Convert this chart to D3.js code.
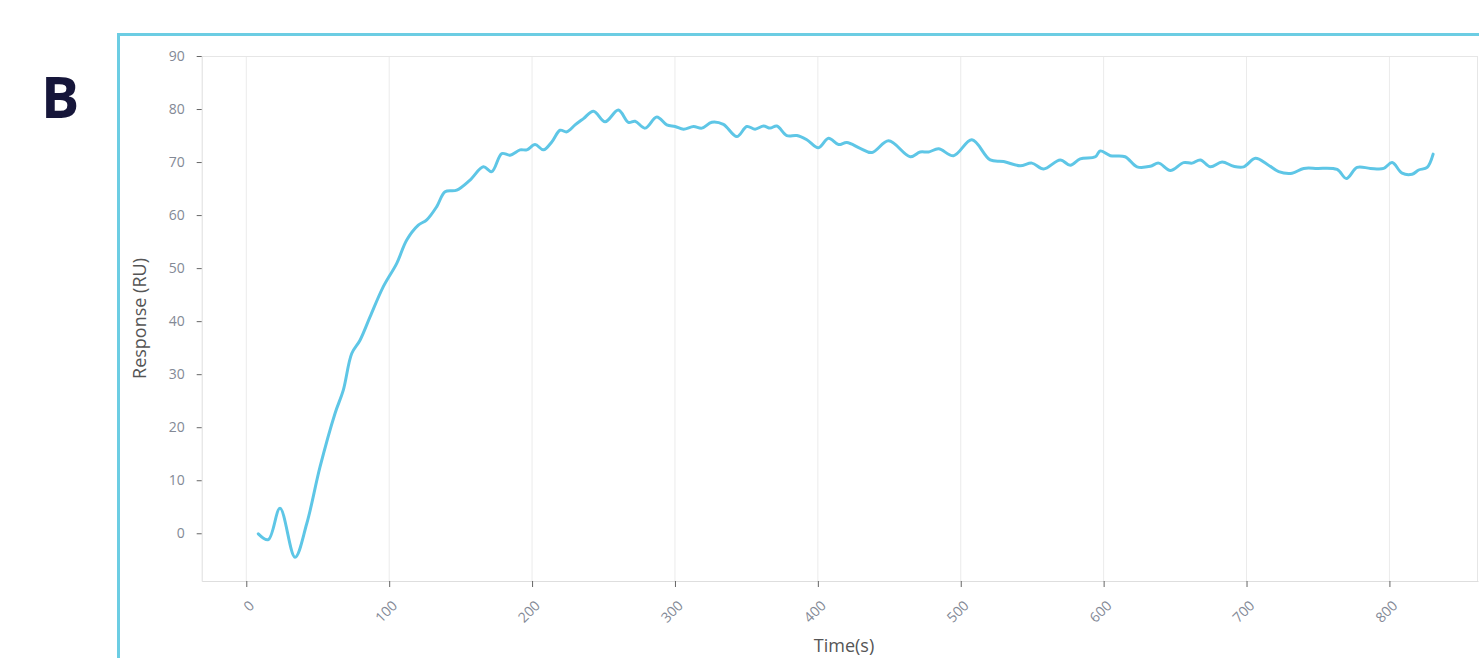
<!DOCTYPE html>
<html>
<head>
<meta charset="utf-8">
<script src="https://cdn.jsdelivr.net/npm/d3@7"></script>
<style>
  html, body { margin: 0; padding: 0; background: #fff; }
  svg { display: block; }
</style>
</head>
<body>
<svg id="chart" width="1479" height="658"></svg>
<script>
// ---- data ----
const timeS = [8.4, 15.4, 23.6, 34.1, 42.3, 51.6, 62.1, 67.9, 73.8, 79.6, 86.6, 95.9, 105.3, 112.3, 120.4, 126.3,
  133.3, 139.1, 147.3, 156.6, 165.9, 171.8, 178.8, 184.6, 191.6, 196.3, 202.1, 208, 213.8, 219.6, 224.3, 230.1,
  236, 243, 251.1, 260.4, 267.4, 272.1, 279.1, 287.3, 294.3, 300.1, 306, 313, 318.8, 325.8, 333.9, 343.3, 350.3,
  356.1, 362, 366.6, 371.3, 378.3, 385.3, 392.3, 400.4, 407.5, 414.5, 420.3, 429.6, 437.8, 449.5, 464.7, 471.6,
  477.5, 484.5, 495, 507.8, 520.6, 530, 541.6, 549.8, 558, 569.6, 576.7, 583.6, 594.2, 597.6, 604.7, 615, 623.4,
  632.7, 638.5, 646.7, 656, 661.9, 667.7, 674.7, 682.9, 691, 698, 706.2, 714.4, 722.5, 731.9, 740, 749.4, 763.4,
  769.9, 777.4, 786.7, 796, 801.9, 808.9, 815.9, 820.5, 826.4, 830.6];
const responseRU = [-0.1, -1.2, 4.7, -4.5, 1.8, 12.5, 22.6, 27, 33.9, 36.4, 40.8, 46.5, 50.9, 55.3, 58.1, 59.1,
  61.6, 64.4, 64.7, 66.6, 69.1, 68.2, 71.6, 71.3, 72.3, 72.3, 73.3, 72.3, 73.8, 76, 75.7, 77,
  78.2, 79.6, 77.6, 79.8, 77.5, 77.7, 76.4, 78.5, 77, 76.7, 76.2, 76.7, 76.4, 77.5, 77.1, 74.8, 76.7,
  76.2, 76.8, 76.4, 76.8, 75, 75, 74.2, 72.7, 74.5, 73.3, 73.7, 72.6, 71.8, 74, 71, 71.9,
  71.9, 72.5, 71.2, 74.2, 70.4, 70.1, 69.3, 69.8, 68.7, 70.4, 69.4, 70.6, 71, 72.1, 71.2, 71, 69.1,
  69.2, 69.8, 68.4, 69.9, 69.8, 70.4, 69.1, 70, 69.2, 69.1, 70.7, 69.6, 68.2, 67.9, 68.8, 68.8, 68.6,
  66.9, 69, 68.8, 68.8, 69.9, 67.9, 67.7, 68.5, 69, 71.5];
const xTicks = [0, 100, 200, 300, 400, 500, 600, 700, 800];
const yTicks = [0, 10, 20, 30, 40, 50, 60, 70, 80, 90];
const xDomain = [-31.2, 862];
const yDomain = [-9, 90];
const panelLabel = "B";
const xTitle = "Time(s)";
const yTitle = "Response (RU)";

const points = timeS.map((t, i) => ({ t, v: responseRU[i] }));

// ---- layout ----
const L = 201.7, R = 1478, T = 56, B = 581;
const svg = d3.select("#chart");
const x = d3.scaleLinear().domain(xDomain).range([L, R]);
const y = d3.scaleLinear().domain(yDomain).range([B, T]);

const font = "'Open Sans', 'Noto Sans', sans-serif";
const tickColor = "#838996";

// outer cyan frame
svg.append("rect")
  .attr("x", 118.5).attr("y", 34.5)
  .attr("width", 1400).attr("height", 700)
  .attr("fill", "none").attr("stroke", "#6ccde3").attr("stroke-width", 3);

// panel label
svg.append("text")
  .attr("x", 41).attr("y", 118)
  .attr("font-family", font).attr("font-weight", 700).attr("font-size", 57)
  .attr("fill", "#16163a").text(panelLabel);

// vertical gridlines
svg.append("g").selectAll("line").data(xTicks).join("line")
  .attr("x1", d => x(d)).attr("x2", d => x(d))
  .attr("y1", T).attr("y2", B)
  .attr("stroke", "#ebebeb").attr("stroke-width", 1);

// plot frame top/right
svg.append("line").attr("x1", L).attr("x2", R).attr("y1", T + 0.5).attr("y2", T + 0.5)
  .attr("stroke", "#e6e6e6");
svg.append("line").attr("x1", R - 0.5).attr("x2", R - 0.5).attr("y1", T).attr("y2", B)
  .attr("stroke", "#e6e6e6");

// y axis
const yAxis = svg.append("g").attr("transform", `translate(${L},0)`)
  .call(d3.axisLeft(y).tickValues(yTicks).tickSize(5).tickPadding(12).tickSizeOuter(0));
yAxis.select(".domain").attr("stroke", "#dedede");
yAxis.selectAll(".tick line").attr("stroke", "#666");
yAxis.selectAll(".tick text").attr("font-family", font).attr("font-size", 14).attr("fill", tickColor);

// x axis
const xAxis = svg.append("g").attr("transform", `translate(0,${B})`)
  .call(d3.axisBottom(x).tickValues(xTicks).tickSize(6).tickSizeOuter(0));
xAxis.select(".domain").attr("stroke", "#dedede");
xAxis.selectAll(".tick line").attr("stroke", "#666");
xAxis.selectAll(".tick text")
  .attr("font-family", font).attr("font-size", 14).attr("fill", tickColor)
  .attr("text-anchor", "end")
  .attr("dy", "0.35em")
  .attr("transform", "translate(5,22) rotate(-45)")
  .attr("y", 0).attr("x", 0);

// axis titles
svg.append("text")
  .attr("transform", `translate(146,${(T + B) / 2}) rotate(-90)`)
  .attr("text-anchor", "middle")
  .attr("font-family", font).attr("font-size", 18).attr("fill", "#555")
  .text(yTitle);
svg.append("text")
  .attr("x", 844).attr("y", 652)
  .attr("text-anchor", "middle")
  .attr("font-family", font).attr("font-size", 18).attr("fill", "#555")
  .text(xTitle);

// response curve
const line = d3.line().x(d => x(d.t)).y(d => y(d.v)).curve(d3.curveCatmullRom.alpha(0.5));
svg.append("path").datum(points)
  .attr("d", line)
  .attr("fill", "none").attr("stroke", "#5ec6e6").attr("stroke-width", 3)
  .attr("stroke-linejoin", "round").attr("stroke-linecap", "round");
</script>
</body>
</html>
